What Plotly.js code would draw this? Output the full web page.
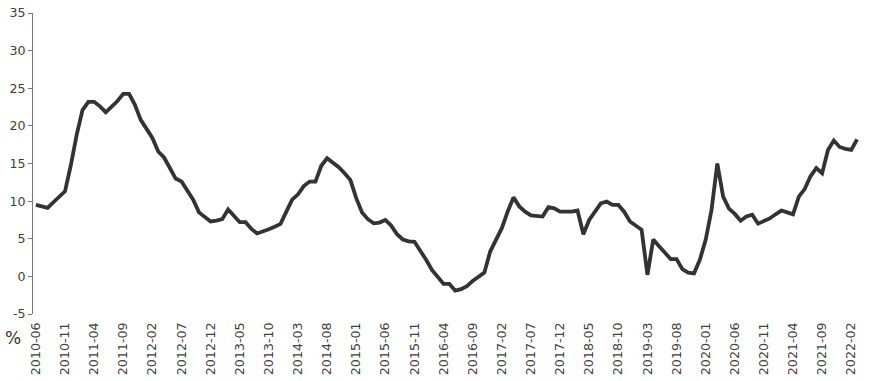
<!DOCTYPE html>
<html>
<head>
<meta charset="utf-8">
<script src="https://cdn.plot.ly/plotly-3.0.1.min.js"></script>
<style>html,body{margin:0;padding:0;background:#fff;}#chart{width:869px;height:381px;}</style>
</head>
<body>
<div id="chart"></div>
<script>
// Months (categories)
const months = [
  "2010-06","2010-07","2010-08","2010-09","2010-10","2010-11","2010-12",
  "2011-01","2011-02","2011-03","2011-04","2011-05","2011-06","2011-07","2011-08","2011-09","2011-10","2011-11","2011-12",
  "2012-01","2012-02","2012-03","2012-04","2012-05","2012-06","2012-07","2012-08","2012-09","2012-10","2012-11","2012-12",
  "2013-01","2013-02","2013-03","2013-04","2013-05","2013-06","2013-07","2013-08","2013-09","2013-10","2013-11","2013-12",
  "2014-01","2014-02","2014-03","2014-04","2014-05","2014-06","2014-07","2014-08","2014-09","2014-10","2014-11","2014-12",
  "2015-01","2015-02","2015-03","2015-04","2015-05","2015-06","2015-07","2015-08","2015-09","2015-10","2015-11","2015-12",
  "2016-01","2016-02","2016-03","2016-04","2016-05","2016-06","2016-07","2016-08","2016-09","2016-10","2016-11","2016-12",
  "2017-01","2017-02","2017-03","2017-04","2017-05","2017-06","2017-07","2017-08","2017-09","2017-10","2017-11","2017-12",
  "2018-01","2018-02","2018-03","2018-04","2018-05","2018-06","2018-07","2018-08","2018-09","2018-10","2018-11","2018-12",
  "2019-01","2019-02","2019-03","2019-04","2019-05","2019-06","2019-07","2019-08","2019-09","2019-10","2019-11","2019-12",
  "2020-01","2020-02","2020-03","2020-04","2020-05","2020-06","2020-07","2020-08","2020-09","2020-10","2020-11","2020-12",
  "2021-01","2021-02","2021-03","2021-04","2021-05","2021-06","2021-07","2021-08","2021-09","2021-10","2021-11","2021-12",
  "2022-01","2022-02","2022-03"
];

// Series values (%)
const values = [
  9.5, 9.3, 9.1, 9.85, 10.6, 11.3, 14.8,
  18.8, 22.1, 23.2, 23.2, 22.6, 21.8, 22.5, 23.3, 24.25, 24.25, 22.8, 20.8,
  19.6, 18.4, 16.6, 15.8, 14.4, 13.0, 12.6, 11.4, 10.2, 8.5, 7.9, 7.3,
  7.4, 7.6, 8.9, 8.0, 7.2, 7.2, 6.3, 5.7, 5.95, 6.25, 6.6, 6.97,
  8.6, 10.2, 10.9, 12.0, 12.6, 12.6, 14.7, 15.7, 15.1, 14.5, 13.7, 12.8,
  10.4, 8.5, 7.6, 7.05, 7.15, 7.5, 6.75, 5.6, 4.9, 4.65, 4.6, 3.5,
  2.2, 0.85, 0.0, -1.0, -1.0, -1.9, -1.7, -1.3, -0.6, -0.1, 0.5, 3.3,
  4.9, 6.4, 8.6, 10.5, 9.3, 8.6, 8.1, 8.0, 7.95, 9.2, 9.05, 8.6,
  8.6, 8.6, 8.75, 5.6, 7.5, 8.6, 9.7, 9.95, 9.5, 9.5, 8.6, 7.3,
  6.7, 6.2, 0.2, 4.9, 4.0, 3.2, 2.3, 2.3, 0.95, 0.5, 0.4, 2.2,
  4.85, 8.8, 15.0, 10.6, 9.0, 8.3, 7.4, 7.95, 8.2, 7.0, 7.4, 7.7,
  8.25, 8.75, 8.5, 8.25, 10.6, 11.6, 13.3, 14.4, 13.7, 16.8, 18.05, 17.2,
  16.95, 16.8, 18.2
];

// Tick labels (every 5th month)
const tickLabels = [
  "2010-06","2010-11","2011-04","2011-09","2012-02","2012-07","2012-12","2013-05","2013-10",
  "2014-03","2014-08","2015-01","2015-06","2015-11","2016-04","2016-09","2017-02","2017-07",
  "2017-12","2018-05","2018-10","2019-03","2019-08","2020-01","2020-06","2020-11","2021-04",
  "2021-09","2022-02"
];

const yTicks = [-5, 0, 5, 10, 15, 20, 25, 30, 35];

// tick marks on the zero axis sit at category boundaries
const boundaryTicks = tickLabels.slice(1).map(l => months.indexOf(l) - 0.5);

const axisGray = '#7a7a7a';
const textGray = '#404040';
const fontFam = 'DejaVu Sans, Verdana, sans-serif';

const trace = {
  type: 'scatter',
  mode: 'lines',
  x: months,
  y: values,
  line: {color: '#333333', width: 3.8},
  hoverinfo: 'skip',
  showlegend: false
};

const layout = {
  width: 869,
  height: 381,
  margin: {l: 32.5, r: 9, t: 13, b: 67, pad: 0},
  paper_bgcolor: '#ffffff',
  plot_bgcolor: '#ffffff',
  showlegend: false,
  xaxis: {
    type: 'category',
    categoryorder: 'array',
    categoryarray: months,
    range: [-0.5, months.length - 0.5],
    tickmode: 'array',
    tickvals: tickLabels,
    ticktext: tickLabels,
    tickangle: -90,
    ticks: '',
    ticklabelstandoff: 5,
    showline: false,
    showgrid: false,
    zeroline: false,
    tickfont: {family: fontFam, size: 12.6, color: textGray},
    fixedrange: true
  },
  xaxis2: {
    overlaying: 'x',
    anchor: 'free',
    position: 0.125,
    type: 'linear',
    range: [-0.5, months.length - 0.5],
    tickmode: 'array',
    tickvals: boundaryTicks,
    ticks: 'inside',
    ticklen: 5,
    tickwidth: 1,
    tickcolor: axisGray,
    showticklabels: false,
    showline: true,
    linecolor: axisGray,
    linewidth: 1,
    showgrid: false,
    zeroline: false,
    fixedrange: true
  },
  yaxis: {
    range: [-5, 35],
    tickmode: 'array',
    tickvals: yTicks,
    ticktext: yTicks.map(String),
    ticks: 'outside',
    ticklen: 4,
    tickwidth: 1,
    tickcolor: axisGray,
    showline: true,
    linecolor: axisGray,
    linewidth: 1,
    showgrid: false,
    zeroline: false,
    tickfont: {family: fontFam, size: 12.6, color: textGray},
    fixedrange: true
  },
  annotations: [{
    xref: 'paper', yref: 'paper',
    x: -0.024, y: -0.08,
    xanchor: 'center', yanchor: 'middle',
    text: '%',
    showarrow: false,
    font: {family: fontFam, size: 17, color: '#333333'}
  }]
};

Plotly.newPlot('chart', [trace], layout, {displayModeBar: false, staticPlot: true});
</script>
</body>
</html>
